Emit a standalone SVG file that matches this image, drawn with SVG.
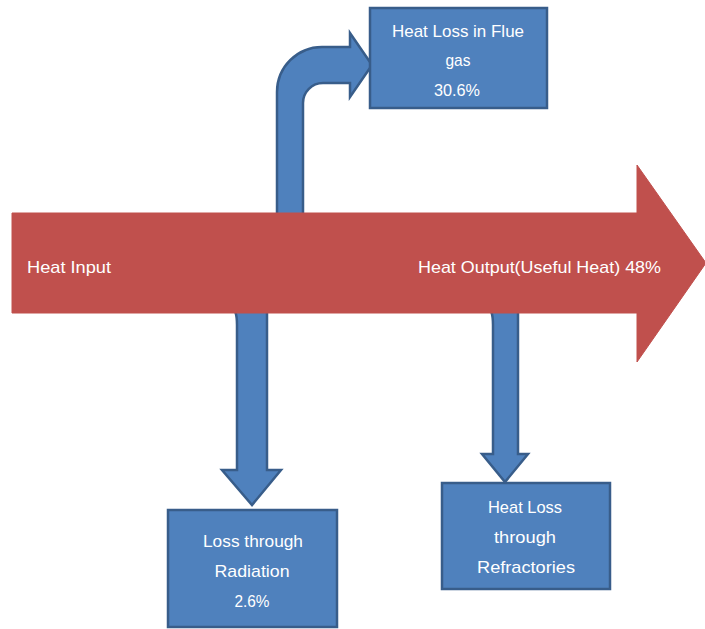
<svg xmlns="http://www.w3.org/2000/svg" width="705" height="629" viewBox="0 0 705 629">
<style>
.box{fill:#4F81BD;stroke:#385D8A;stroke-width:2.5}
.conn{fill:#4F81BD;stroke:#385D8A;stroke-width:2.5;stroke-linejoin:miter}
.main{fill:#C0504D;stroke:#C0504D;stroke-width:1}
text{font-family:"Liberation Sans",Arial,sans-serif;font-size:17px;fill:#FFFFFF;text-anchor:middle}
.lbl{text-anchor:start;font-size:17px}
</style>
<rect width="705" height="629" fill="#FFFFFF"/>
<g id="connectors">
<path class="conn" d="M277,230 L277,92 A45,45 0 0 1 322,47 L350,47 L350,33 L372,65 L350,97 L350,83 L323,83 A20,20 0 0 0 303,103 L303,230 Z"/>
<path class="conn" d="M230,305 Q237,308 237,325 L237,470 L222,470 L252,505 L281,470 L267,470 L267,305 Z"/>
<path class="conn" d="M486,305 Q493,308 493,325 L493,454 L482,454 L505,482 L528,454 L518,454 L518,305 Z"/>
</g>
<g id="heat-flow">
<path class="main" d="M12,213 L637,213 L637,165 L706,263 L637,362 L637,313 L12,313 Z"/>
<text class="lbl" x="27" y="273" textLength="84" lengthAdjust="spacingAndGlyphs">Heat Input</text>
<text class="lbl" x="418" y="273" textLength="243" lengthAdjust="spacingAndGlyphs">Heat Output(Useful Heat) 48%</text>
</g>
<g id="flue-gas">
<rect class="box" x="370" y="8" width="177" height="100"/>
<text x="458" y="37" textLength="132" lengthAdjust="spacingAndGlyphs">Heat Loss in Flue</text>
<text x="458" y="66" textLength="25" lengthAdjust="spacingAndGlyphs">gas</text>
<text x="457" y="96" textLength="46" lengthAdjust="spacingAndGlyphs">30.6%</text>
</g>
<g id="radiation">
<rect class="box" x="168" y="510" width="169" height="117"/>
<text x="253" y="547" textLength="100" lengthAdjust="spacingAndGlyphs">Loss through</text>
<text x="252" y="577" textLength="75" lengthAdjust="spacingAndGlyphs">Radiation</text>
<text x="252" y="607" textLength="35" lengthAdjust="spacingAndGlyphs">2.6%</text>
</g>
<g id="refractories">
<rect class="box" x="442" y="483" width="168" height="106"/>
<text x="525" y="513" textLength="74" lengthAdjust="spacingAndGlyphs">Heat Loss</text>
<text x="525" y="543" textLength="62" lengthAdjust="spacingAndGlyphs">through</text>
<text x="526" y="573" textLength="98" lengthAdjust="spacingAndGlyphs">Refractories</text>
</g>
</svg>
